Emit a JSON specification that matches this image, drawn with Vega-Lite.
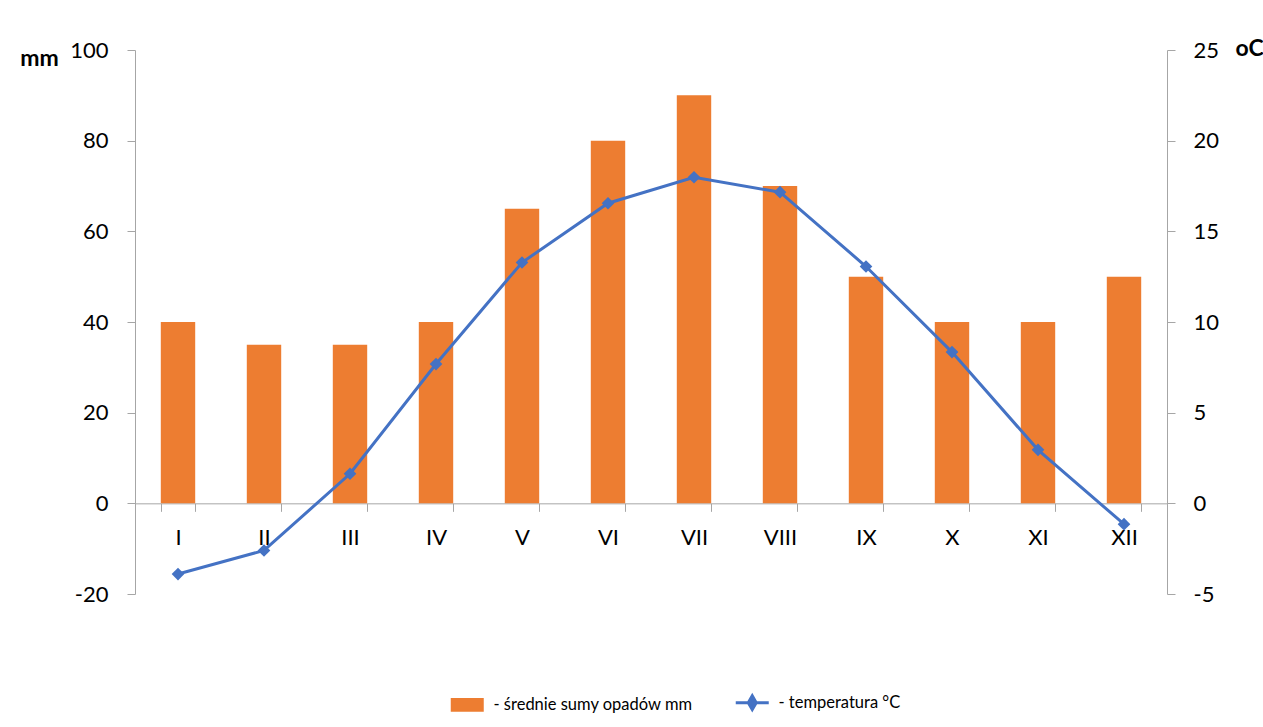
{
  "$schema": "https://vega.github.io/schema/vega-lite/v6.json",
  "width": 1032,
  "height": 544,
  "autosize": {"type": "none"},
  "padding": {"left": 135, "top": 50, "right": 96, "bottom": 133},
  "background": "white",
  "config": {
    "font": "Lato",
    "view": {"stroke": null},
    "axis": {"grid": false, "domainColor": "#A6A6A6", "tickColor": "#A6A6A6", "labelColor": "#000000", "labelFont": "Lato", "labelFontSize": 22, "domainWidth": 1, "tickWidth": 1}
  },
  "data": {
    "values": [
      {"month": "I", "opady": 40, "temp": -3.9},
      {"month": "II", "opady": 35, "temp": -2.6},
      {"month": "III", "opady": 35, "temp": 1.63},
      {"month": "IV", "opady": 40, "temp": 7.68},
      {"month": "V", "opady": 65, "temp": 13.28},
      {"month": "VI", "opady": 80, "temp": 16.55},
      {"month": "VII", "opady": 90, "temp": 17.98},
      {"month": "VIII", "opady": 70, "temp": 17.16},
      {"month": "IX", "opady": 50, "temp": 13.06},
      {"month": "X", "opady": 40, "temp": 8.34},
      {"month": "XI", "opady": 40, "temp": 2.95},
      {"month": "XII", "opady": 50, "temp": -1.15}
    ]
  },
  "encoding": {
    "x": {
      "field": "month",
      "type": "nominal",
      "sort": null,
      "scale": {"paddingInner": 0.6, "paddingOuter": 0.3},
      "axis": {
        "title": null,
        "orient": "bottom",
        "offset": -90.67,
        "labelAngle": 0,
        "tickBand": "extent",
        "tickSize": 8,
        "labelPadding": 16,
        "encode": {"ticks": {"enter": {"y": {"value": -8}}, "update": {"y": {"value": -8}}}}
      }
    }
  },
  "layer": [
    {
      "mark": {"type": "bar", "color": "#ED7D31"},
      "encoding": {
        "y": {
          "field": "opady",
          "type": "quantitative",
          "scale": {"domain": [-20, 100], "nice": false, "zero": false},
          "axis": {
            "values": [-20, 0, 20, 40, 60, 80, 100],
            "labelExpr": "'' + datum.value",
            "title": "mm",
            "titleAngle": 0,
            "titleAlign": "center",
            "titleBaseline": "alphabetic",
            "titleX": -96,
            "titleY": 15,
            "titleFont": "Lato",
            "titleFontSize": 23,
            "titleFontWeight": "bold",
            "titleColor": "#000000",
            "tickSize": 8,
            "labelPadding": 19,
            "encode": {"ticks": {"enter": {"x": {"value": 8}}, "update": {"x": {"value": 8}}}}
          }
        },
        "color": {
          "datum": "- średnie sumy opadów mm",
          "type": "nominal",
          "scale": {"domain": ["- średnie sumy opadów mm", "- temperatura °C"], "range": ["#ED7D31", "#4472C4"]},
          "legend": {
            "title": null,
            "orient": "none",
            "legendX": 324,
            "legendY": 644,
            "direction": "horizontal",
            "columnPadding": 36,
            "labelFont": "Lato",
            "labelFontSize": 16.5,
            "labelColor": "#000000",
            "labelOffset": 18,
            "labelLimit": 500,
            "symbolSize": 1089,
            "encode": {
              "symbols": {
                "update": {
                  "shape": {"signal": "datum.value === '- temperatura °C' ? 'M-1,0H1M0,-0.42L0.24,0L0,0.42L-0.24,0Z' : 'M-1,-0.42H1V0.42H-1Z'"},
                  "fill": {"signal": "datum.value === '- temperatura °C' ? '#4472C4' : '#ED7D31'"},
                  "stroke": {"signal": "datum.value === '- temperatura °C' ? '#4472C4' : '#ED7D31'"},
                  "strokeWidth": {"signal": "datum.value === '- temperatura °C' ? 3 : 0"},
                  "size": {"value": 1089},
                  "opacity": {"value": 1}
                }
              }
            }
          }
        }
      }
    },
    {
      "mark": {"type": "line", "color": "#4472C4", "strokeWidth": 3, "point": {"shape": "diamond", "size": 160, "filled": true, "color": "#4472C4"}},
      "encoding": {
        "y": {
          "field": "temp",
          "type": "quantitative",
          "scale": {"domain": [-5, 25], "nice": false, "zero": false},
          "axis": {
            "orient": "right",
            "values": [-5, 0, 5, 10, 15, 20, 25],
            "labelExpr": "'' + datum.value",
            "title": "oC",
            "titleAngle": 0,
            "titleAlign": "left",
            "titleBaseline": "alphabetic",
            "titleX": 68,
            "titleY": 5,
            "titleFont": "Lato",
            "titleFontSize": 23,
            "titleFontWeight": "bold",
            "titleColor": "#000000",
            "tickSize": 8,
            "labelPadding": 18,
            "encode": {"ticks": {"enter": {"x": {"value": -8}}, "update": {"x": {"value": -8}}}}
          }
        },
        "color": {"datum": "- temperatura °C", "type": "nominal"}
      }
    }
  ],
  "resolve": {"scale": {"y": "independent"}}
}
